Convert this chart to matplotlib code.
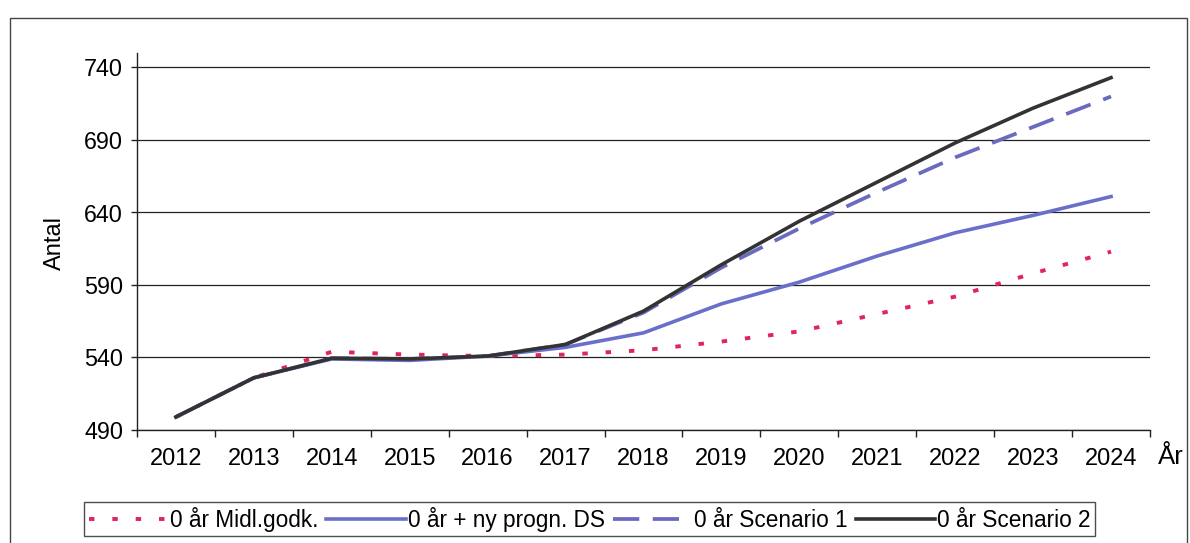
import matplotlib
matplotlib.use("Agg")
import matplotlib.pyplot as plt
from matplotlib.patches import Rectangle

years = ["2012", "2013", "2014", "2015", "2016", "2017", "2018",
         "2019", "2020", "2021", "2022", "2023", "2024"]
midl_godk = [499, 526, 544, 542, 541, 542, 545, 551, 558, 570, 582, 598, 613]
ny_progn_ds = [499, 526, 539, 538, 541, 547, 557, 577, 592, 610, 626, 638, 651]
scenario1 = [499, 526, 539.5, 539, 541, 549, 571, 602, 629, 654, 678, 699, 720]
scenario2 = [499, 526, 539.5, 539, 541, 549, 572, 604, 634, 661, 688, 712, 733]
labels = ["0 år Midl.godk.", "0 år + ny progn. DS", "0 år Scenario 1", "0 år Scenario 2"]
yticks = [490, 540, 590, 640, 690, 740]

plt.rcParams['font.family'] = ['Liberation Sans', 'DejaVu Sans']

W, H = 1190, 543
fig = plt.figure(figsize=(W / 100, H / 100), dpi=100)
fig.patch.set_facecolor('white')

# outer frame
fig.patches.append(Rectangle((10 / W, -0.05), (1187 - 10) / W, 1.05 - 18 / H,
                             transform=fig.transFigure, fill=False,
                             edgecolor='#444444', linewidth=1.0))

ax = fig.add_axes([137 / W, 1 - 430 / H, (1150 - 137) / W, (430 - 53) / H])
x = list(range(len(years)))

l1, = ax.plot(x, midl_godk, color='#e0245e', lw=2.8, linestyle=(0, (1.4, 4.6)),
              dash_capstyle='butt', zorder=3)
l2, = ax.plot(x, ny_progn_ds, color='#6a6fc9', lw=2.6, zorder=3)
l3, = ax.plot(x, scenario1, color='#6a6abf', lw=2.7, linestyle=(0, (7, 3.6)), zorder=3)
l4, = ax.plot(x, scenario2, color='#333333', lw=2.6, zorder=4)

ax.set_xlim(-0.5, len(years) - 0.5)
ax.set_ylim(490, 750)
ax.set_yticks(yticks)
ax.set_yticklabels([str(v) for v in yticks])
ax.set_xticks([i - 0.5 for i in range(len(years) + 1)])
ax.set_xticklabels([])
ax.set_xticks(x, minor=True)
ax.set_xticklabels(years, minor=True)
ax.tick_params(axis='x', which='major', direction='out', length=5, width=1, color='#222222')
ax.tick_params(axis='x', which='minor', length=0, pad=13, labelsize=17)
ax.tick_params(axis='y', direction='out', length=4, width=1, pad=6, labelsize=16.8,
               color='#222222')
ax.grid(axis='y', color='#222222', linewidth=0.9)
ax.set_axisbelow(True)
for s in ['top', 'right']:
    ax.spines[s].set_visible(False)
for s in ['left', 'bottom']:
    ax.spines[s].set_color('#222222')
    ax.spines[s].set_linewidth(1.0)

fig.text(55 / W, 1 - 243 / H, "Antal", rotation=90, ha='center', va='center', fontsize=17)
fig.text(1158 / W, 1 - 464 / H, "År", ha='left', va='baseline', fontsize=18.5)

leg = fig.legend([l1, l2, l3, l4], labels, loc='upper left',
                 bbox_to_anchor=(84 / W, 1 - 502 / H), ncol=4, fontsize=16.3,
                 frameon=True, fancybox=False, edgecolor='#222222',
                 handlelength=3.5, handletextpad=0.1, columnspacing=0.35,
                 borderpad=0.2, borderaxespad=0.0)
leg.get_frame().set_linewidth(1.0)

fig.savefig("out.png", dpi=100, facecolor='white')
